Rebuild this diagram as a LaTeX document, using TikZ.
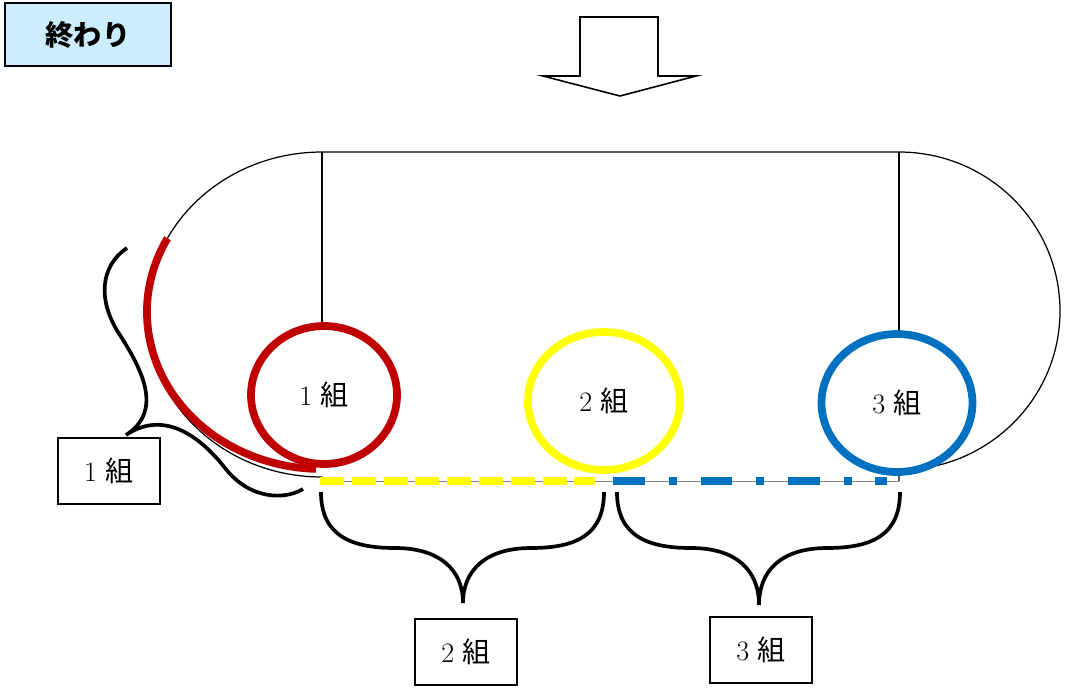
\documentclass[tikz,border=0pt]{standalone}
\usepackage{fontspec}
\newfontfamily\cjk{Noto Sans CJK JP}
\usetikzlibrary{shapes.geometric}
\definecolor{groupred}{HTML}{C00000}
\definecolor{groupyellow}{HTML}{FFFF00}
\definecolor{groupblue}{HTML}{0070C0}
\definecolor{titleblue}{HTML}{CCECFF}
\tikzset{
  ring/.style={draw, ellipse, line width=4.4pt, inner sep=0pt,
    minimum height=2.76cm},
  grouplabel/.style={font=\fontsize{16}{18}\selectfont},
  namebox/.style={draw, line width=0.7pt, minimum width=2.04cm,
    minimum height=1.32cm, grouplabel},
  brace/.style={line width=2.1pt},
}
\begin{document}
\begin{tikzpicture}[x=0.02cm, y=-0.02cm]
  \def\Xl{322};
  \def\Xr{899};
  \def\Ytop{152};
  \def\Ybot{481};

  \useasboundingbox (0,0) rectangle (1072,698);

  % title
  \node[draw, fill=titleblue, line width=0.7pt, minimum width=3.32cm,
    minimum height=1.26cm, font=\cjk\bfseries\fontsize{16}{18}\selectfont]
    (title) at (88,34.5) {終わり};

  % block arrow
  \draw[line width=0.9pt] (580,17) -- (658,17) -- (658,76) -- (696,76)
    -- (620,96) -- (543,76) -- (580,76) -- cycle;

  % track
  \draw[line width=0.4pt, gray] (\Xl,\Ybot) -- (\Xr,\Ybot);
  \draw[line width=0.7pt] (\Xr,\Ybot) -- (\Xr,470)
    arc[start angle=90, end angle=-90, x radius=161, y radius=159]
    -- (\Xl,\Ytop)
    arc[start angle=270, end angle=90, x radius=175, y radius=162.5]
    -- (\Xl,\Ybot);
  \draw[line width=0.7pt] (\Xl,\Ytop) -- (\Xl,323);
  \draw[line width=0.7pt] (\Xr,\Ytop) -- (\Xr,331);

  % red part of the curve
  \draw[groupred, line width=4.4pt] (\Xl,312) ++(208:175 and 157)
    arc[start angle=208, end angle=92, x radius=175, y radius=157];

  % lines of group 2 and 3
  \draw[groupyellow, line width=4.8pt, dash pattern=on 13.6pt off 4.5pt]
    (320,\Ybot) -- (595,\Ybot);
  \draw[groupblue, line width=4.8pt,
    dash pattern=on 18.1pt off 13.6pt on 4.5pt off 13.6pt]
    (613,\Ybot) -- (887,\Ybot);

  % circles
  \node[ring, groupred, minimum width=2.92cm] (g1) at (324,395) {};
  \node[ring, groupyellow, minimum width=3.04cm] (g2) at (604,401) {};
  \node[ring, groupblue, minimum width=3.02cm] (g3) at (897,403) {};
  \node[grouplabel] at (g1) {1 {\cjk 組}};
  \node[grouplabel] at (g2) {2 {\cjk 組}};
  \node[grouplabel] at (g3) {3 {\cjk 組}};

  % labels
  \node[namebox] (b1) at (109,471) {1 {\cjk 組}};
  \node[namebox] (b2) at (466,652) {2 {\cjk 組}};
  \node[namebox] (b3) at (761,650) {3 {\cjk 組}};

  % braces
  \draw[brace] (127,248) .. controls (100,266) and (98,300) .. (118,332)
    .. controls (140,366) and (165,410) .. (126,435)
    .. controls (160,412) and (195,430) .. (225,468)
    .. controls (250,500) and (285,500) .. (303,489);
  \draw[brace] (321,492) .. controls (321,535) and (350,548) .. (395,548)
    .. controls (440,548) and (463,570) .. (463,603)
    .. controls (463,570) and (486,548) .. (531,548)
    .. controls (576,548) and (604,535) .. (604,492);
  \draw[brace] (617,492) .. controls (617,535) and (646,548) .. (691,548)
    .. controls (736,548) and (759,570) .. (759,605)
    .. controls (759,570) and (782,548) .. (827,548)
    .. controls (872,548) and (900,535) .. (900,492);
\end{tikzpicture}
\end{document}
